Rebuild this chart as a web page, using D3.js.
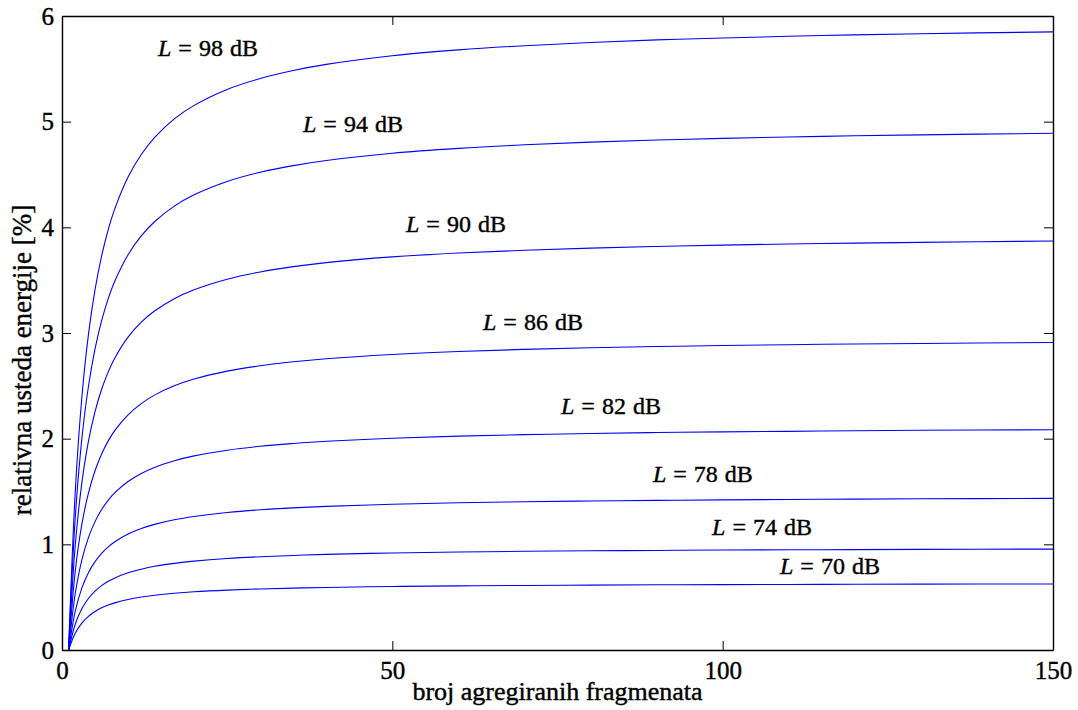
<!DOCTYPE html>
<html>
<head>
<meta charset="utf-8">
<script src="https://cdn.jsdelivr.net/npm/d3@7"></script>
<style>
  html, body { margin: 0; padding: 0; background: #fff; }
  svg { display: block; }
  svg text { font-family: "Liberation Serif", "Times New Roman", Times, serif !important; fill: #000; }
</style>
</head>
<body>
<svg id="chart" width="1078" height="710" font-family="Liberation Serif"></svg>
<script>
// ---- data ----
const fragments = [1,2,3,4,5,6,7,8,10,12,14,17,20,25,30,35,40,50,60,70,80,90,100,115,130,150];
const levels = [98, 94, 90, 86, 82, 78, 74, 70];
const saving98 = [0,1.492,2.387,2.984,3.410,3.730,3.979,4.177,4.476,4.689,4.849,5.026,5.154,5.305,5.408,5.484,5.542,5.624,5.679,5.719,5.749,5.774,5.792,5.815,5.832,5.85];
const saving94 = [0,1.247,1.996,2.494,2.850,3.118,3.326,3.492,3.741,3.919,4.053,4.201,4.308,4.434,4.521,4.584,4.632,4.701,4.747,4.781,4.806,4.826,4.842,4.861,4.875,4.89];
const saving90 = [0,0.987,1.579,1.974,2.256,2.468,2.632,2.764,2.961,3.102,3.208,3.325,3.409,3.509,3.578,3.628,3.666,3.720,3.757,3.783,3.803,3.819,3.832,3.847,3.858,3.87];
const saving86 = [0,0.742,1.188,1.484,1.696,1.855,1.979,2.078,2.226,2.332,2.412,2.500,2.564,2.639,2.690,2.728,2.757,2.797,2.825,2.845,2.860,2.872,2.881,2.893,2.901,2.91];
const saving82 = [0,0.532,0.851,1.064,1.215,1.329,1.418,1.489,1.595,1.671,1.728,1.791,1.837,1.891,1.928,1.954,1.975,2.004,2.024,2.038,2.049,2.058,2.064,2.072,2.079,2.085];
const saving78 = [0,0.366,0.586,0.732,0.836,0.915,0.976,1.025,1.098,1.150,1.189,1.233,1.264,1.301,1.327,1.345,1.359,1.379,1.393,1.403,1.410,1.416,1.421,1.426,1.431,1.435];
const saving74 = [0,0.244,0.390,0.487,0.557,0.609,0.650,0.682,0.731,0.765,0.792,0.820,0.841,0.866,0.883,0.895,0.905,0.918,0.927,0.934,0.939,0.942,0.946,0.949,0.952,0.955];
const saving70 = [0,0.159,0.255,0.319,0.364,0.399,0.425,0.446,0.478,0.501,0.518,0.537,0.551,0.567,0.578,0.586,0.592,0.601,0.607,0.611,0.614,0.617,0.619,0.621,0.623,0.625];
const seriesValues = [saving98, saving94, saving90, saving86, saving82, saving78, saving74, saving70];
// label anchor positions in data units (x = fragments, y = saving %)
const labelX = [14.53, 36.48, 52.07, 63.72, 75.53, 89.45, 98.39, 108.68];
const labelY = [5.62, 4.90, 3.956, 3.028, 2.233, 1.59, 1.088, 0.719];
const xTicks = [0, 50, 100, 150];
const yTicks = [0, 1, 2, 3, 4, 5, 6];
const xTitle = "broj agregiranih fragmenata";
const yTitle = "relativna usteda energije [%]";

// ---- layout ----
const svg = d3.select("#chart");
const mLeft = 62, mRight = 1053, mTop = 16, mBottom = 650;
const x = d3.scaleLinear().domain([0, 150]).range([mLeft, mRight]);
const y = d3.scaleLinear().domain([0, 6]).range([mBottom, mTop]);
const tickLen = 9;
const serif = "'Liberation Serif', 'Times New Roman', serif";

// curves
const line = d3.line()
  .x(d => x(d[0]))
  .y(d => y(d[1]))
  .curve(d3.curveCatmullRom.alpha(0.5));

svg.append("g").selectAll("path")
  .data(seriesValues)
  .join("path")
  .attr("d", vals => line(fragments.map((f, i) => [f, vals[i]])))
  .attr("fill", "none")
  .attr("stroke", "#0000ff")
  .attr("stroke-width", 1.1);

// axes (MATLAB-like box with inward ticks)
const axStyle = g => {
  g.attr("font-family", serif).attr("font-size", 25);
  g.select(".domain").attr("stroke", "#000").attr("stroke-width", 1.4);
  g.selectAll(".tick line").attr("stroke", "#000").attr("stroke-width", 1);
  g.selectAll(".tick text")
    .attr("font-family", serif)
    .attr("font-size", 25)
    .attr("fill", "#000").attr("stroke", "#000").attr("stroke-width", 0.4);
};

svg.append("g")
  .attr("transform", `translate(0,${mBottom})`)
  .call(d3.axisBottom(x).tickValues(xTicks).tickFormat(d3.format("d")).tickSizeInner(-tickLen).tickSizeOuter(0).tickPadding(11))
  .call(axStyle);

svg.append("g")
  .attr("transform", `translate(0,${mTop})`)
  .call(d3.axisTop(x).tickValues(xTicks).tickSizeInner(-tickLen).tickSizeOuter(0).tickFormat(""))
  .call(axStyle);

svg.append("g")
  .attr("transform", `translate(${mLeft},0)`)
  .call(d3.axisLeft(y).tickValues(yTicks).tickFormat(d3.format("d")).tickSizeInner(-tickLen).tickSizeOuter(0).tickPadding(8))
  .call(axStyle);

svg.append("g")
  .attr("transform", `translate(${mRight},0)`)
  .call(d3.axisRight(y).tickValues(yTicks).tickSizeInner(-tickLen).tickSizeOuter(0).tickFormat(""))
  .call(axStyle);

// curve labels
const lab = svg.append("g").selectAll("text")
  .data(levels)
  .join("text")
  .attr("x", (d, i) => x(labelX[i]))
  .attr("y", (d, i) => y(labelY[i]))
  .attr("font-family", serif)
  .attr("font-size", 24)
  .attr("stroke", "#000").attr("stroke-width", 0.4);
lab.append("tspan").attr("font-style", "italic").text("L");
lab.append("tspan").attr("dx", 7).text("=");
lab.append("tspan").attr("dx", 7).text(d => `${d}`);
lab.append("tspan").attr("dx", 7).text("dB");

// axis titles
svg.append("text")
  .attr("x", (mLeft + mRight) / 2)
  .attr("y", 700)
  .attr("text-anchor", "middle")
  .attr("font-family", serif)
  .attr("font-size", 26)
  .attr("stroke", "#000").attr("stroke-width", 0.4)
  .text(xTitle);

svg.append("text")
  .attr("transform", `translate(31,360) rotate(-90)`)
  .attr("text-anchor", "middle")
  .attr("font-family", serif)
  .attr("font-size", 27)
  .attr("stroke", "#000").attr("stroke-width", 0.4)
  .text(yTitle);
</script>
</body>
</html>
